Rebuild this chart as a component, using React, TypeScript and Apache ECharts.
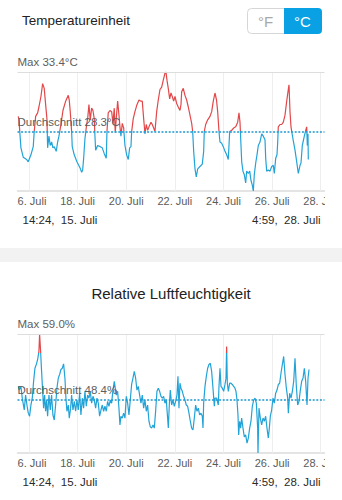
import React, { useEffect, useRef } from "react";
import * as echarts from "echarts";

// Time in days of July (e.g. 16.5 = 16. Juli 12:00)
const tempDays = [
  15.56, 15.589, 15.671, 15.766, 15.905, 15.971, 16.082, 16.177, 16.218, 16.276,
  16.358, 16.411, 16.494, 16.564, 16.629, 16.687, 16.74, 16.769, 16.823, 16.876,
  16.934, 16.987, 17.041, 17.123, 17.181, 17.234, 17.316, 17.399, 17.51, 17.617,
  17.658, 17.699, 17.756, 17.781, 17.863, 17.974, 18.098, 18.168, 18.209, 18.25,
  18.304, 18.374, 18.415, 18.468, 18.522, 18.579, 18.633, 18.686, 18.715, 18.744,
  18.826, 18.933, 19.015, 19.098, 19.18, 19.209, 19.262, 19.332, 19.402, 19.455,
  19.509, 19.55, 19.591, 19.649, 19.702, 19.743, 19.784, 19.838, 19.896, 19.949,
  20.019, 20.085, 20.142, 20.196, 20.225, 20.29, 20.36, 20.443, 20.525, 20.607,
  20.661, 20.718, 20.772, 20.825, 20.883, 20.936, 21.019, 21.072, 21.13, 21.183,
  21.253, 21.319, 21.389, 21.459, 21.525, 21.594, 21.636, 21.677, 21.73, 21.788,
  21.841, 21.895, 21.952, 22.006, 22.076, 22.141, 22.211, 22.253, 22.281, 22.347,
  22.417, 22.487, 22.553, 22.623, 22.693, 22.734, 22.775, 22.829, 22.882, 22.94,
  23.034, 23.129, 23.186, 23.211, 23.269, 23.351, 23.446, 23.516, 23.581, 23.651,
  23.714, 23.762, 23.816, 23.857, 23.927, 23.993, 24.063, 24.133, 24.198, 24.227,
  24.256, 24.338, 24.42, 24.503, 24.585, 24.638, 24.68, 24.721, 24.75, 24.803,
  24.857, 24.914, 24.955, 25.021, 25.079, 25.132, 25.186, 25.227, 25.268, 25.326,
  25.379, 25.433, 25.502, 25.572, 25.638, 25.708, 25.737, 25.778, 25.844, 25.914,
  25.984, 26.049, 26.091, 26.148, 26.202, 26.231, 26.255, 26.325, 26.395, 26.461,
  26.531, 26.601, 26.666, 26.695, 26.736, 26.777, 26.831, 26.889, 26.942, 27.012,
  27.078, 27.148, 27.189, 27.242, 27.325, 27.382, 27.423, 27.448, 27.477, 27.489,
];
const tempValues = [
  29.6, 29.3, 26.9, 26.1, 25.9, 25.7, 26.3, 27.0, 28.3, 29.6,
  29.9, 30.4, 31.3, 32.4, 32.0, 30.6, 29.4, 26.9, 27.9, 27.1,
  27.4, 26.9, 27.0, 26.6, 27.4, 27.9, 28.9, 30.1, 30.9, 31.4,
  31.0, 30.0, 28.3, 27.0, 26.3, 25.7, 25.2, 24.8, 25.0, 26.0,
  27.7, 28.9, 29.4, 30.6, 29.3, 30.3, 30.1, 29.4, 27.9, 26.7,
  27.1, 27.0, 26.9, 26.4, 26.0, 28.3, 29.9, 30.1, 30.0, 29.0,
  30.3, 28.2, 29.4, 30.9, 29.7, 28.7, 27.9, 29.0, 28.6, 27.1,
  26.3, 25.9, 26.9, 27.0, 28.3, 29.4, 30.0, 30.6, 31.0, 30.9,
  30.9, 29.4, 28.1, 28.9, 28.4, 28.7, 29.1, 28.9, 28.6, 28.3,
  30.0, 31.0, 31.9, 32.1, 32.7, 33.3, 33.4, 32.7, 32.0, 31.1,
  31.6, 31.3, 30.9, 31.3, 30.7, 30.4, 30.1, 30.6, 31.7, 32.0,
  31.4, 31.0, 30.4, 29.7, 29.0, 28.3, 26.6, 25.1, 24.4, 25.1,
  25.3, 25.5, 26.6, 28.3, 28.9, 29.3, 29.6, 30.0, 30.9, 31.6,
  31.0, 30.0, 28.3, 27.4, 27.3, 27.0, 26.6, 26.3, 25.9, 27.1,
  28.3, 28.4, 28.6, 28.7, 29.1, 29.9, 29.1, 27.1, 25.7, 24.9,
  24.6, 23.9, 24.9, 24.7, 24.9, 24.1, 23.7, 23.2, 24.6, 25.6,
  26.3, 27.1, 27.4, 28.1, 27.9, 27.6, 26.0, 24.9, 25.0, 24.9,
  25.3, 25.4, 24.7, 26.0, 26.3, 27.4, 28.7, 28.9, 28.9, 29.1,
  29.7, 30.9, 31.9, 32.3, 30.0, 28.7, 28.0, 27.3, 26.7, 25.7,
  24.7, 25.4, 25.6, 27.1, 27.9, 28.4, 28.7, 27.1, 28.1, 25.9,
];

const humDays = [
  15.561, 15.602, 15.671, 15.726, 15.808, 15.863, 15.918, 15.973, 16.027, 16.082,
  16.137, 16.192, 16.247, 16.302, 16.357, 16.411, 16.439, 16.48, 16.521, 16.562,
  16.603, 16.645, 16.686, 16.727, 16.768, 16.823, 16.878, 16.932, 16.987, 17.042,
  17.097, 17.152, 17.207, 17.262, 17.316, 17.371, 17.426, 17.481, 17.522, 17.563,
  17.618, 17.659, 17.714, 17.755, 17.81, 17.865, 17.92, 17.975, 18.029, 18.084,
  18.139, 18.194, 18.249, 18.304, 18.359, 18.414, 18.468, 18.523, 18.578, 18.633,
  18.688, 18.743, 18.797, 18.852, 18.907, 18.962, 19.017, 19.072, 19.126, 19.181,
  19.236, 19.291, 19.346, 19.401, 19.455, 19.51,
  19.592, 19.647, 19.702, 19.743, 19.784, 19.839, 19.894, 19.949, 20.004, 20.059,
  20.113, 20.168, 20.223, 20.278, 20.333, 20.388, 20.443, 20.497, 20.552, 20.607,
  20.662, 20.717, 20.772, 20.827, 20.881, 20.936, 20.991, 21.046, 21.101, 21.156,
  21.21, 21.265, 21.32, 21.375, 21.43, 21.485, 21.539, 21.594, 21.649, 21.704,
  21.732, 21.773, 21.814, 21.869, 21.924, 21.978, 22.033, 22.088, 22.129, 22.17,
  22.211, 22.253, 22.307, 22.362, 22.417, 22.472, 22.527, 22.582, 22.637, 22.691,
  22.746, 22.801, 22.856, 22.911, 22.966, 23.02, 23.075, 23.13, 23.158, 23.185,
  23.24, 23.295, 23.35, 23.404, 23.459, 23.514, 23.569, 23.624,
  23.651, 23.72, 23.788, 23.816, 23.857, 23.898, 23.953, 24.008, 24.063, 24.104,
  24.131, 24.159, 24.2, 24.255, 24.309, 24.364, 24.419, 24.474, 24.515, 24.556,
  24.597, 24.625, 24.666, 24.707, 24.748, 24.803, 24.858, 24.913, 24.968, 25.022,
  25.077, 25.132, 25.187, 25.242, 25.297, 25.352, 25.406, 25.42, 25.461, 25.516,
  25.571, 25.626, 25.681, 25.735, 25.79, 25.845, 25.886, 25.927, 25.982, 26.037,
  26.092, 26.147, 26.202, 26.257, 26.311, 26.366, 26.421, 26.476, 26.531, 26.586,
  26.641, 26.668, 26.723, 26.778, 26.833, 26.888, 26.942, 26.997, 27.052, 27.107,
  27.162, 27.216, 27.271, 27.326, 27.381, 27.436, 27.477, 27.518,
];
const humValues = [
  50.6, 50.0, 50.6, 48.7, 46.8, 49.2, 47.6, 46.3, 45.8, 47.6,
  48.7, 51.4, 53.5, 54.1, 54.9, 56.2, 59.0, 56.2, 53.0, 50.0,
  47.1, 49.2, 46.6, 48.4, 45.8, 49.2, 46.8, 49.2, 46.0, 45.2,
  47.6, 50.3, 51.9, 52.5, 53.3, 53.5, 54.2, 51.9, 48.7, 46.6,
  47.6, 45.5, 47.1, 49.2, 46.8, 48.2, 46.6, 48.4, 46.8, 49.5,
  46.0, 48.7, 47.1, 49.8, 47.4, 49.2, 48.7, 49.8, 47.9, 49.0,
  48.4, 47.1, 48.7, 47.9, 45.8, 46.8, 47.6, 46.6, 47.4, 46.6,
  48.2, 47.4, 48.4, 47.9, 50.0, 51.4,
  49.2, 49.8, 47.1, 44.4, 45.8, 45.5, 46.3, 45.5, 49.0, 47.9,
  46.0, 48.4, 50.9, 51.9, 53.0, 51.9, 50.0, 50.6, 49.2, 47.9,
  49.2, 47.1, 48.4, 46.6, 47.6, 45.0, 44.1, 43.9, 44.4, 43.9,
  46.6, 49.8, 50.3, 49.8, 49.0, 48.7, 49.0, 47.9, 48.4, 45.5,
  43.9, 47.6, 50.0, 47.6, 48.4, 47.4, 48.2, 49.2, 52.2, 47.1,
  51.1, 50.3, 49.8, 49.0, 48.4, 47.6, 47.4, 46.3, 45.0, 43.9,
  43.6, 45.5, 47.6, 46.6, 47.1, 46.0, 46.3, 45.8, 43.9, 47.9,
  50.6, 52.2, 53.5, 54.1, 54.3, 53.0, 50.3, 47.4,
  48.7, 48.7, 47.6, 50.6, 53.5, 50.6, 50.3, 49.8, 50.9, 51.9,
  57.0, 51.1, 49.8, 51.1, 51.1, 50.9, 50.6, 50.3, 49.8, 48.4,
  46.0, 42.8, 45.0, 43.9, 45.5, 43.9, 42.5, 42.8, 41.5, 42.3,
  43.9, 45.0, 47.4, 48.4, 48.7, 47.9, 43.9, 39.9, 47.1, 45.5,
  44.4, 45.5, 45.0, 45.8, 43.9, 42.3, 43.9, 45.8, 46.8, 48.7,
  47.9, 49.5, 50.0, 50.9, 51.1, 52.7, 54.1, 55.4, 52.5, 50.3,
  48.7, 46.3, 49.5, 48.7, 49.8, 51.4, 55.1, 50.6, 47.6, 48.2,
  50.0, 51.4, 51.9, 53.5, 51.4, 47.6, 51.9, 53.3,
];

// [max, average, min]
const tempStats = [33.4, 28.3, 23.2];
const humStats = [59.0, 48.4, 39.9];
const humAlertLevel = 56;
const dayTicks = [16, 18, 20, 22, 24, 26, 28];
const axisRange = [15.53, 28.155];
const rangeLabels = ["14:24,  15. Juli", "4:59,  28. Juli"];
const unitOptions = ["°F", "°C"];
const titles = ["Temperatureinheit", "Relative Luftfeuchtigkeit"];

const RED = "#e2474a";
const BLUE = "#22a3d8";
const AVG = "#1c97cf";
const FONT = "'Liberation Sans', Arial, Helvetica, sans-serif";

function xAxisFor(gridIndex: number) {
  return {
    type: "value",
    gridIndex,
    min: axisRange[0],
    max: axisRange[1],
    axisLine: { show: true, lineStyle: { color: "#dcdcdc", width: 1.5 } },
    axisTick: { show: false },
    axisLabel: { show: false },
    splitLine: { show: false },
  };
}

function yAxisFor(gridIndex: number, stats: number[]) {
  return {
    type: "value",
    gridIndex,
    min: stats[2],
    max: stats[0],
    axisLine: { show: false },
    axisTick: { show: false },
    axisLabel: { show: false },
    splitLine: { show: false },
  };
}

// vertical day grid lines + day labels below the plot
function daySeries(gridIndex: number) {
  return {
    type: "line",
    xAxisIndex: gridIndex,
    yAxisIndex: gridIndex,
    data: [],
    silent: true,
    z: 1,
    markLine: {
      silent: true,
      symbol: "none",
      animation: false,
      z: 1,
      lineStyle: { color: "#eeeeee", type: "solid", width: 1 },
      label: {
        position: "start",
        distance: [0, 4],
        color: "#5a5a5a",
        fontSize: 11,
        fontFamily: FONT,
      },
      data: dayTicks.map((d) => ({ xAxis: d, label: { formatter: `${d}. Juli` } })),
    },
  };
}

function markLinesFor(stats: number[], unit: string) {
  const [max, avg, min] = stats;
  return {
    silent: true,
    symbol: "none",
    animation: false,
    label: {
      position: "insideStartTop",
      distance: [0, 4],
      color: "#5e5e5e",
      fontSize: 11.5,
      fontFamily: FONT,
    },
    data: [
      {
        yAxis: max,
        lineStyle: { color: "#dddddd", type: "solid", width: 1 },
        label: { formatter: `Max ${max.toFixed(1)}${unit}` },
      },
      {
        yAxis: avg,
        lineStyle: { color: AVG, type: [2, 1.6], width: 1.5 },
        label: { formatter: `Durchschnitt ${avg.toFixed(1)}${unit}` },
      },
      {
        yAxis: min,
        lineStyle: { color: "#dcdcdc", opacity: 0, width: 0 },
        label: { formatter: `Min ${min.toFixed(1)}${unit}` },
      },
    ],
  };
}

function txt(text: string, x: number, y: number, size: number, fill: string, align = "left") {
  return {
    type: "text",
    x,
    y,
    z: 110,
    style: {
      text,
      fill,
      fontSize: size,
      fontFamily: FONT,
      align,
      textAlign: align,
      verticalAlign: "middle",
      textVerticalAlign: "middle",
    },
  };
}

function cover(x: number, y: number, w: number, h: number) {
  return { type: "rect", z: 100, shape: { x, y, width: w, height: h }, style: { fill: "#ffffff" } };
}

export default function App() {
  const ref = useRef<HTMLDivElement>(null);

  useEffect(() => {
    if (!ref.current) return;
    const chart = echarts.init(ref.current, null, { renderer: "svg" });
    const tempData = tempDays.map((d, i) => [d, tempValues[i]]);
    const humData = humDays.map((d, i) => [d, humValues[i]]);

    const option: any = {
      animation: false,
      backgroundColor: "#ffffff",
      grid: [
        { left: 17.5, top: 72, width: 307, height: 119 },
        { left: 17.5, top: 334, width: 307, height: 119 },
      ],
      xAxis: [xAxisFor(0), xAxisFor(1)],
      yAxis: [yAxisFor(0, tempStats), yAxisFor(1, humStats)],
      visualMap: [
        {
          type: "piecewise",
          show: false,
          seriesIndex: 0,
          dimension: 1,
          pieces: [
            { gte: -50, lte: tempStats[1], color: BLUE },
            { gt: tempStats[1], lte: 150, color: RED },
          ],
        },
        {
          type: "piecewise",
          show: false,
          seriesIndex: 1,
          dimension: 1,
          pieces: [
            { gte: 0, lte: humAlertLevel, color: BLUE },
            { gt: humAlertLevel, lte: 100, color: RED },
          ],
        },
      ],
      series: [
        {
          type: "line",
          xAxisIndex: 0,
          yAxisIndex: 0,
          data: tempData,
          showSymbol: false,
          symbol: "none",
          silent: true,
          z: 2,
          lineStyle: { width: 1.2 },
          markLine: markLinesFor(tempStats, "°C"),
        },
        {
          type: "line",
          xAxisIndex: 1,
          yAxisIndex: 1,
          data: humData,
          showSymbol: false,
          symbol: "none",
          silent: true,
          z: 2,
          lineStyle: { width: 1.2 },
          markLine: markLinesFor(humStats, "%"),
        },
        daySeries(0),
        daySeries(1),
      ],
      graphic: [
        txt(titles[0], 22, 20.5, 13.5, "#222222"),
        {
          type: "rect",
          z: 100,
          shape: { x: 247.5, y: 8.5, width: 37, height: 25, r: [4, 0, 0, 4] },
          style: { fill: "#ffffff", stroke: "#d6d6d6", lineWidth: 1 },
        },
        {
          type: "rect",
          z: 100,
          shape: { x: 284, y: 8, width: 38, height: 26, r: [0, 4, 4, 0] },
          style: { fill: "#0aa0e4" },
        },
        txt(unitOptions[0], 265.5, 21, 15, "#a8a8a8", "center"),
        txt(unitOptions[1], 302.5, 21, 15, "#ffffff", "center"),
        { type: "rect", z: 100, shape: { x: 0, y: 248, width: 342, height: 14 }, style: { fill: "#f2f2f2" } },
        txt(titles[1], 171, 293, 15, "#222222", "center"),
        cover(0, 193, 17.3, 16),
        cover(325, 193, 17, 16),
        cover(0, 455, 17.3, 16),
        cover(325, 455, 17, 16),
        txt(rangeLabels[0], 22.5, 219.5, 11.5, "#2a2a2a"),
        txt(rangeLabels[1], 320.5, 219.5, 11.5, "#2a2a2a", "right"),
        txt(rangeLabels[0], 22.5, 481.5, 11.5, "#2a2a2a"),
        txt(rangeLabels[1], 320.5, 481.5, 11.5, "#2a2a2a", "right"),
      ],
    };
    chart.setOption(option);
    return () => chart.dispose();
  }, []);

  return (
    <div
      ref={ref}
      style={{ position: "absolute", left: 0, top: 0, width: 342, height: 500, background: "#ffffff" }}
    />
  );
}
